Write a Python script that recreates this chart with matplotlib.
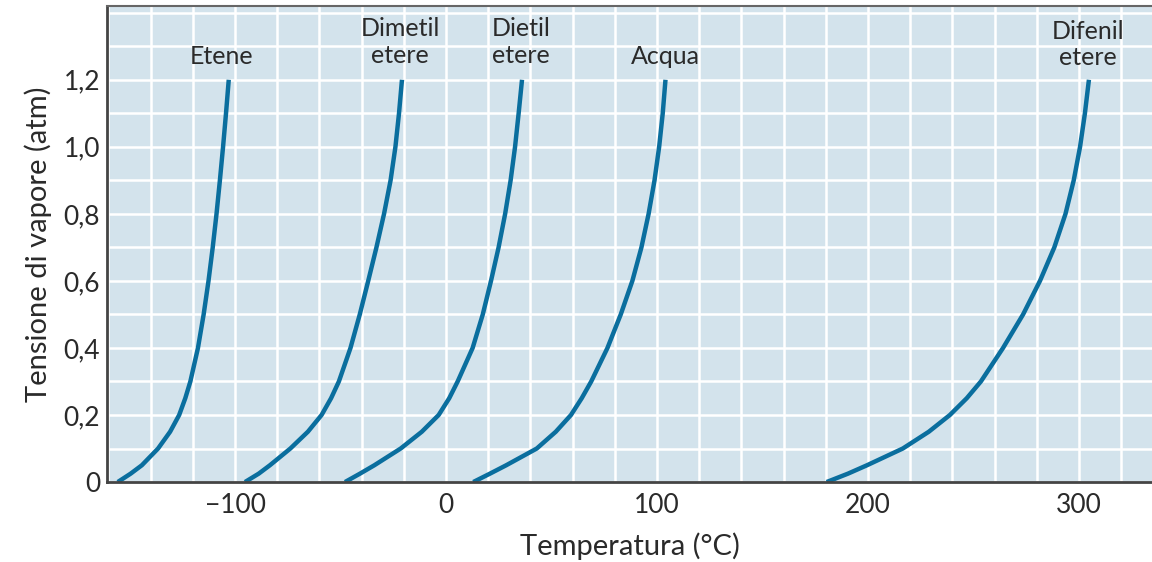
import matplotlib
matplotlib.use("Agg")
import matplotlib.pyplot as plt
from matplotlib.ticker import MultipleLocator

plt.rcParams['font.family'] = ['Lato', 'DejaVu Sans']

# Vapour pressure (atm) levels at which temperatures were read
pressure = [0, 0.025, 0.05, 0.1, 0.15, 0.2, 0.25, 0.3, 0.4, 0.5, 0.6,
            0.7, 0.8, 0.9, 1.0, 1.1, 1.2]

etene_T = [-155.6, -149.5, -144.2, -136.5, -130.8, -126.5, -123.6, -121.2,
           -117.6, -114.9, -112.6, -110.6, -108.8, -107.2, -105.7, -104.3, -103.0]
dimetil_T = [-95.3, -88.8, -83.5, -73.8, -65.5, -59.0, -54.5, -50.8,
             -45.3, -40.9, -36.9, -33.0, -29.4, -26.3, -24.0, -22.3, -20.9]
dietil_T = [-47.9, -40.8, -34.0, -21.5, -11.5, -3.5, 1.5, 5.5,
            12.6, 17.4, 21.3, 24.9, 28.0, 30.6, 32.7, 34.4, 36.0]
acqua_T = [12.9, 20.8, 28.5, 43.0, 52.0, 59.2, 64.3, 68.8,
           76.5, 82.8, 88.3, 92.6, 96.0, 98.8, 101.0, 102.7, 104.0]
difenil_T = [180.4, 190.5, 199.5, 216.5, 228.8, 238.8, 246.8, 253.5,
             264.0, 273.5, 281.5, 288.3, 293.6, 297.5, 300.5, 302.8, 304.7]

series = [etene_T, dimetil_T, dietil_T, acqua_T, difenil_T]
labels = ["Etene", "Dimetil\netere", "Dietil\netere", "Acqua", "Difenil\netere"]
label_x = [-106.2, -21.8, 35.5, 103.8, 304.3]
label_y = [1.269, 1.313, 1.313, 1.269, 1.305]

x_ticks = [-100, 0, 100, 200, 300]
x_ticklabels = ["\u2212100", "0", "100", "200", "300"]
y_ticks = [0, 0.2, 0.4, 0.6, 0.8, 1.0, 1.2]
y_ticklabels = ["0", "0,2", "0,4", "0,6", "0,8", "1,0", "1,2"]

fig = plt.figure(figsize=(11.52, 5.62), dpi=100)
ax = fig.add_axes([0.0929, 0.1423, 0.9071, 0.847])
ax.set_facecolor("#d3e3ec")
ax.set_xlim(-160.7, 334.6)
ax.set_ylim(0, 1.42)

ax.xaxis.set_minor_locator(MultipleLocator(20))
ax.yaxis.set_minor_locator(MultipleLocator(0.1))
ax.set_xticks(x_ticks)
ax.set_xticklabels(x_ticklabels)
ax.set_yticks(y_ticks)
ax.set_yticklabels(y_ticklabels)
ax.grid(which="both", color="white", linewidth=1.8)
ax.set_axisbelow(True)
ax.tick_params(which="both", length=0)
ax.tick_params(axis="x", pad=8, labelsize=19, colors="#2a2a2a")
ax.tick_params(axis="y", pad=5, labelsize=19, colors="#2a2a2a")

for s in ["left", "bottom"]:
    ax.spines[s].set_color("#444444")
    ax.spines[s].set_linewidth(2.0)
ax.spines["top"].set_color("#666666")
ax.spines["top"].set_linewidth(1.5)
ax.spines["right"].set_visible(False)

for T in series:
    ax.plot(T, pressure, color="#0a6e9e", linewidth=3.2,
            solid_capstyle="butt", solid_joinstyle="round")

for lab, lx, ly in zip(labels, label_x, label_y):
    ax.text(lx, ly, lab, ha="center", va="center", fontsize=18,
            color="#2a2a2a", linespacing=1.2)

ax.set_xlabel("Temperatura (°C)", fontsize=21, color="#2a2a2a", labelpad=10)
ax.set_ylabel("Tensione di vapore (atm)", fontsize=21, color="#2a2a2a", labelpad=8)

fig.savefig("out.png", dpi=100)
